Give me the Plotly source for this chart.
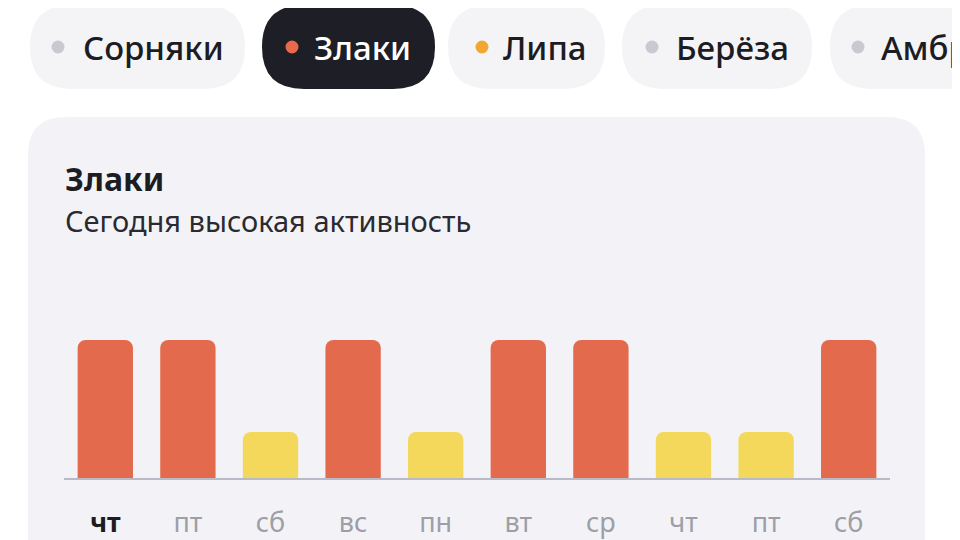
import plotly.graph_objects as go

# ---- data ----
days = ["чт", "пт", "сб", "вс", "пн", "вт", "ср", "чт", "пт", "сб"]
levels = [3, 3, 1, 3, 1, 3, 3, 1, 1, 3]
pill_names = ["Сорняки", "Злаки", "Липа", "Берёза", "Амбр"]
title_text = "Злаки"
subtitle_text = "Сегодня высокая активность"

# ---- styles ----
OFF = 8  # page body margin
W, H = 960 - OFF, 540 - OFF
HIGH = "#e46a4e"
LOW = "#f3d85b"
FONT = "Noto Sans"
bar_colors = [HIGH if v >= 3 else LOW for v in levels]

def px(x):
    return (x - OFF) / W

def py(y):
    return 1 - (y - OFF) / H

def rrect(x0, y0, x1, y1, r):
    pts = [
        ("M", x0 + r, y0), ("L", x1 - r, y0), ("Q", x1, y0, x1, y0 + r),
        ("L", x1, y1 - r), ("Q", x1, y1, x1 - r, y1), ("L", x0 + r, y1),
        ("Q", x0, y1, x0, y1 - r), ("L", x0, y0 + r), ("Q", x0, y0, x0 + r, y0),
    ]
    s = ""
    for p in pts:
        c = p[0]
        nums = p[1:]
        coords = []
        for i in range(0, len(nums), 2):
            coords.append(f"{px(nums[i]):.5f},{py(nums[i+1]):.5f}")
        s += c + " " + " ".join(coords) + " "
    return s + "Z"

shapes = []
shapes.append(dict(type="path", path=rrect(28, 117, 925, 640, 38), xref="paper", yref="paper",
                   fillcolor="#f3f3f7", line=dict(width=0), layer="below"))

# pills: (x0, x1, dot_x, text_x, dot_color, selected)
pill_geo = [
    (30, 245, 58, 81, "#c8c9d1", False),
    (262, 435, 292, 312, "#e9694c", True),
    (448, 605, 482, 501, "#f0a832", False),
    (622, 812, 652, 674, "#c8c9d1", False),
    (830, 1010, 858, 879, "#c8c9d1", False),
]
annotations = []
for name, (x0, x1, dx, tx, dc, sel) in zip(pill_names, pill_geo):
    shapes.append(dict(type="path", path=rrect(x0, 5, x1, 89, 42), xref="paper", yref="paper",
                       fillcolor="#1d1e26" if sel else "#f4f4f7", line=dict(width=0), layer="below"))
    r = 6.5
    shapes.append(dict(type="circle", xref="paper", yref="paper",
                       x0=px(dx - r), x1=px(dx + r), y0=py(47 + r), y1=py(47 - r),
                       fillcolor=dc, line=dict(width=0), layer="below"))
    annotations.append(dict(text=name, x=px(tx), y=py(47), xref="paper", yref="paper",
                            xanchor="left", yanchor="middle", showarrow=False,
                            font=dict(family=FONT, size=33, weight=500,
                                      color="#ffffff" if sel else "#1c1c22")))

annotations.append(dict(text=f"<b>{title_text}</b>", x=px(63), y=py(179), xref="paper", yref="paper",
                        xanchor="left", yanchor="middle", showarrow=False,
                        font=dict(family=FONT, size=32, color="#1c1c22")))
annotations.append(dict(text=subtitle_text, x=px(63), y=py(220), xref="paper", yref="paper",
                        xanchor="left", yanchor="middle", showarrow=False,
                        font=dict(family=FONT, size=29, color="#2a2a30")))

ticktext = [f'<span style="color:#1c1c22"><b>{d}</b></span>' if i == 0 else d for i, d in enumerate(days)]

fig = go.Figure(go.Bar(
    x=list(range(len(days))), y=levels, marker=dict(color=bar_colors, line=dict(width=0)),
    hoverinfo="skip",
))
fig.update_layout(
    width=W, height=H, margin=dict(l=0, r=0, t=0, b=0, pad=0),
    paper_bgcolor="#ffffff", plot_bgcolor="rgba(0,0,0,0)",
    showlegend=False, bargap=0.33, barcornerradius=8,
    shapes=shapes, annotations=annotations,
    xaxis=dict(domain=[px(64), px(890)], range=[-0.5, len(days) - 0.5],
               tickvals=list(range(len(days))), ticktext=ticktext,
               tickfont=dict(family=FONT, size=27, color="#9d9ea6"),
               ticks="outside", ticklen=20, tickcolor="rgba(0,0,0,0)",
               showline=True, linecolor="#b8bac6", linewidth=2, automargin=False,
               showgrid=False, zeroline=False, fixedrange=True),
    yaxis=dict(domain=[py(478), py(340)], range=[0, 3], visible=False, automargin=False,
               showgrid=False, zeroline=False, fixedrange=True),
)
fig.write_html("out.html")
